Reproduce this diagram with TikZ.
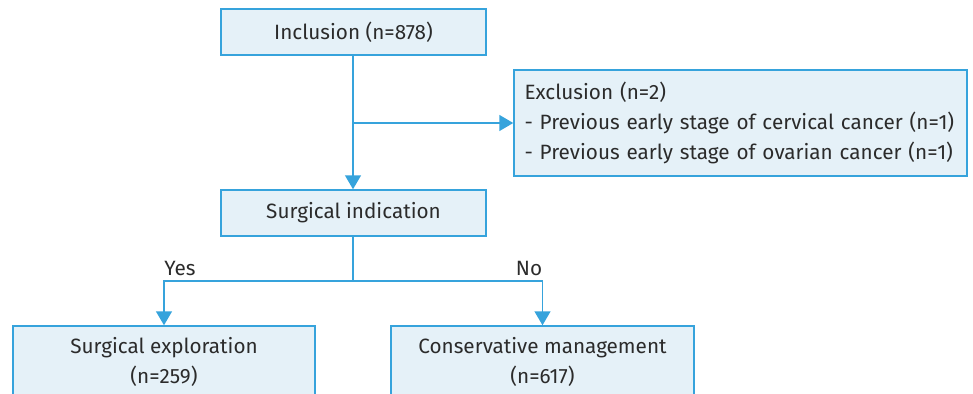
\documentclass[tikz,border=0pt]{standalone}
\usepackage{fontspec}
\setmainfont{Fira Sans}
\usetikzlibrary{arrows.meta}
\definecolor{lineblue}{HTML}{36A3DC}
\definecolor{boxfill}{HTML}{E5F1F8}
\definecolor{txt}{HTML}{2B2B2B}
\tikzset{
  box/.style={draw=lineblue, fill=boxfill, line width=1.5pt, inner sep=0pt, text=txt, font=\fontsize{20.7}{30}\selectfont},
  conn/.style={draw=lineblue, line width=1.5pt, -{Triangle[width=16pt,length=14pt]}},
  lbl/.style={text=txt, font=\fontsize{20.7}{24}\selectfont, inner sep=0pt}
}
\begin{document}
\begin{tikzpicture}[x=1pt,y=-1pt]
\useasboundingbox (0,0) rectangle (973,393);
\clip (0,0) rectangle (973,393);
\node[box, minimum width=265pt, minimum height=46pt] (incl) at (353.5,32) {Inclusion (n=878)};
\node[box, minimum width=453pt, minimum height=106pt, align=left, text width=432pt, inner xsep=10.5pt] (excl) at (740.5,123) {\mbox{Exclusion (n=2)}\\\mbox{- Previous early stage of cervical cancer (n=1)}\\\mbox{- Previous early stage of ovarian cancer (n=1)}};
\node[box, minimum width=265pt, minimum height=46pt] (ind) at (353.5,213) {Surgical indication};
\node[box, minimum width=302pt, minimum height=72pt, align=center] (expl) at (164,362) {Surgical exploration\\(n=259)};
\node[box, minimum width=303pt, minimum height=72pt, align=center] (cons) at (542.5,362) {Conservative management\\(n=617)};
\coordinate (split) at (353,123);
\coordinate (fork) at (353,281);
\draw[conn] (incl.south -| split) -- (ind.north -| split);
\draw[conn] (split) -- (excl.west |- split);
\draw[draw=lineblue, line width=1.5pt] (ind.south -| fork) -- (fork);
\draw[conn] (fork) -| (expl.north);
\draw[conn] (fork) -| (cons.north);
\node[lbl] (yes) at (180,268) {Yes};
\node[lbl] (no) at (529,268) {No};
\end{tikzpicture}
\end{document}
